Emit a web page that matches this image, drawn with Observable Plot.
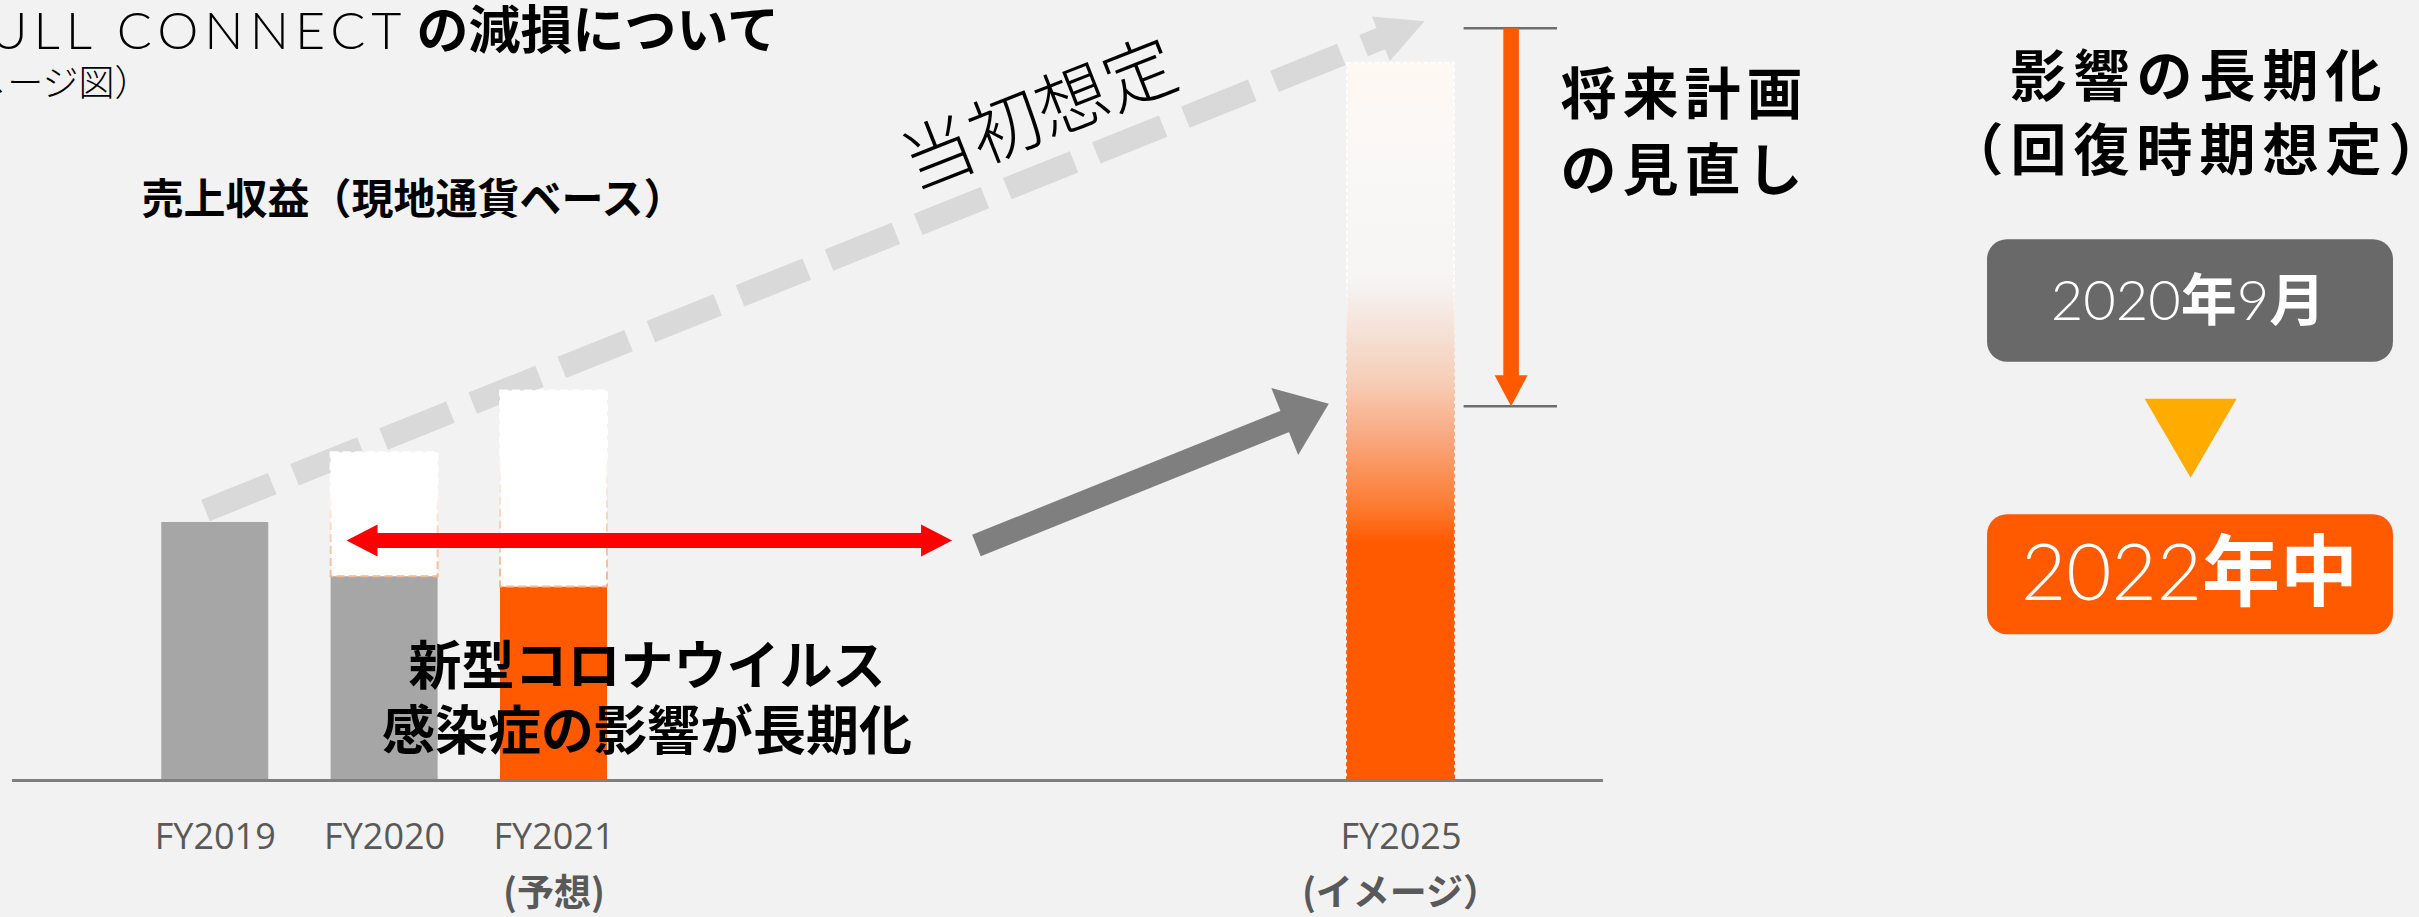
<!DOCTYPE html>
<html><head><meta charset="utf-8">
<script src="https://cdn.jsdelivr.net/npm/d3@7"></script>
<script src="https://cdn.jsdelivr.net/npm/@observablehq/plot@0.6"></script>
<style>
html,body{margin:0;padding:0;background:#f2f2f2;overflow:hidden;}
#chart svg{display:block;}
</style></head><body><div id="chart"></div>
<script>
// ---------------- data ----------------
const fiscalYears = [2019, 2020, 2021, 2025];
const tickLabels  = ["FY2019", "FY2020", "FY2021", "FY2025"];
const tickNotes   = ["", "", "(予想)", "(イメージ）"];
const barKind     = ["actual", "actual", "forecast", "image"];
const revenue     = [100, 79, 75, 278];        // 売上収益 (index, FY2019 = 100)
const initialPlan = [null, 127, 151, null];    // 当初想定 for FY2020 / FY2021
const plan2025    = [291.5, 145];              // 将来計画: original -> revised
const kindNames   = ["actual", "forecast"];
const kindColors  = ["#a6a6a6", "#ff5a00"];
const recovery    = ["2020年9月", "2022年中"]; // 回復時期想定: before -> after

// ---------------- scales ----------------
const W = 2419, H = 917;
const xDomain = [2019, 2021, 2025], xRange = [214.75, 553.5, 1400.5];
const yDomain = [-53.1, 302.3];
const xS = d3.scaleLinear(xDomain, xRange);
const yS = d3.scaleLinear(yDomain, [H, 0]);
const BAR_PX = 107;
const barEdges = fy => [xS.invert(xS(fy) - BAR_PX / 2), xS.invert(xS(fy) + BAR_PX / 2)];

const bars = fiscalYears.map((fy, i) => {
  const [x1, x2] = barEdges(fy);
  return {fy, x1, x2, kind: barKind[i], value: revenue[i], plan: initialPlan[i], note: tickNotes[i]};
});

// ---------------- arrows ----------------
function headSym(ux, uy, len, w) {
  const nx = -uy, ny = ux;
  return {draw(ctx) {
    ctx.moveTo(0, 0);
    ctx.lineTo(-len * ux + w / 2 * nx, -len * uy + w / 2 * ny);
    ctx.lineTo(-len * ux - w / 2 * nx, -len * uy - w / 2 * ny);
    ctx.closePath();
  }};
}
function arrow({tail, tip, shaft, head, headWidth, fill, dash, both = false, noShaft = false}) {
  const p0 = [xS(tail[0]), yS(tail[1])], p1 = [xS(tip[0]), yS(tip[1])];
  const dx = p1[0] - p0[0], dy = p1[1] - p0[1], L = Math.hypot(dx, dy), ux = dx / L, uy = dy / L;
  const at = (p, d) => [xS.invert(p[0] + ux * d), yS.invert(p[1] + uy * d)];
  const end = at(p1, -(head - 1));
  const start = both ? at(p0, head - 1) : tail;
  const marks = [];
  if (!noShaft) marks.push(Plot.link([{a: start, b: end}], {
    x1: d => d.a[0], y1: d => d.a[1], x2: d => d.b[0], y2: d => d.b[1],
    stroke: fill, strokeWidth: shaft, strokeLinecap: "butt", strokeDasharray: dash
  }));
  marks.push(Plot.dot([tip], {x: d => d[0], y: d => d[1], symbol: headSym(ux, uy, head, headWidth), fill, stroke: "none"}));
  if (both) marks.push(Plot.dot([tail], {x: d => d[0], y: d => d[1], symbol: headSym(-ux, -uy, head, headWidth), fill, stroke: "none"}));
  return marks;
}

const CJK = "'Noto Sans CJK JP', sans-serif";
const LAT = "Lato, 'Open Sans', sans-serif";
function label(text, x, y, o = {}) {
  return Plot.text([text], {x, y, text: d => d, fill: o.fill ?? "#000", fontSize: o.size ?? 40,
    fontWeight: o.weight ?? "bold", fontFamily: o.family ?? CJK, textAnchor: o.anchor ?? "middle",
    lineHeight: o.lineHeight ?? 1.2, rotate: o.rotate ?? 0, ariaDescription: o.aria});
}

// ---------------- plot ----------------
const svg = Plot.plot({
  width: W, height: H, margin: 0,
  x: {type: "linear", domain: xDomain, range: xRange},
  y: {type: "linear", domain: yDomain, axis: null},
  color: {type: "ordinal", domain: kindNames, range: kindColors},
  style: {background: "#f2f2f2", fontFamily: "'Open Sans', 'Noto Sans CJK JP', sans-serif", fontSize: "36px"},
  marks: [
    // 当初想定 (dashed trend)
    ...arrow({tail: [2018.942, 104.65], tip: [2025.111, 294.3], shaft: 23, head: 47, headWidth: 48, fill: "#d9d9d9", dash: "72,24"}),
    label("当初想定", 2023.286, 259.1, {size: 72, weight: 300, rotate: -21.5}),
    // bars
    Plot.rect(bars.filter(d => d.kind !== "image"), {x1: "x1", x2: "x2", y1: 0, y2: "value", fill: "kind"}),
    Plot.rect(bars.filter(d => d.plan != null), {x1: "x1", x2: "x2", y1: "value", y2: "plan", fill: "#ffffff",
      stroke: "url(#planStroke)", strokeWidth: 2, strokeDasharray: "8,4"}),
    Plot.rect(bars.filter(d => d.kind === "image"), {x1: "x1", x2: "x2", y1: 0, y2: "value",
      fill: "url(#imageFill)", stroke: "url(#imageStroke)", strokeWidth: 2, strokeDasharray: "4,3"}),
    Plot.ruleY([0], {x1: 2017.803, x2: 2025.956, stroke: "#7f7f7f", strokeWidth: 3}),
    Plot.axisX({ticks: fiscalYears, tickFormat: d => tickLabels[fiscalYears.indexOf(d)], tickSize: 0, tickPadding: -93.6,
      fontSize: 36, color: "#595959", label: null}),
    Plot.text(bars.filter(d => d.note), {x: "fy", y: -44.2, text: "note", fontSize: 37, fontWeight: "bold", fill: "#595959", fontFamily: CJK}),
    // impact prolonged
    ...arrow({tail: [2019.775, 93.02], tip: [2022.880, 93.02], shaft: 15, head: 31, headWidth: 32, fill: "#ff0000", both: true}),
    ...arrow({tail: [2022.995, 91.09], tip: [2024.659, 146.0], shaft: 23, head: 47.5, headWidth: 72, fill: "#7f7f7f"}),
    label("新型コロナウイルス\n感染症の影響が長期化", 2021.439, 32.6, {size: 53, lineHeight: 1.24}),
    // plan revision
    Plot.ruleY(plan2025, {x1: 2025.298, x2: 2025.739, stroke: "#6e6e6e", strokeWidth: 2.5}),
    ...arrow({tail: [2025.52, plan2025[0]], tip: [2025.52, plan2025[1]], shaft: 15.6, head: 31, headWidth: 33, fill: "#ff5a00"}),
    label("将来計画\nの見直し", 2025.753, 253, {size: 56, anchor: "start", lineHeight: 1.357, aria: "spaced6"}),
    // titles
    label("FULL CONNECT", 2020.135, 291.2, {size: 52, weight: 300, family: LAT, anchor: "end", aria: "spaced6t"}),
    label("の減損について", 2020.188, 291.2, {size: 52, anchor: "start"}),
    label("（イメージ図）", 2018.618, 270.5, {size: 36, weight: 300, anchor: "end"}),
    label("売上収益（現地通貨ベース）", 2018.565, 225.8, {size: 42, anchor: "start"}),
    // right panel
    label("影響の長期化\n（回復時期想定）", 2028.771, 260, {size: 56, lineHeight: 1.32, aria: "spaced7"}),
    Plot.rect([{t: recovery[0], y1: 162.1, y2: 209.6, c: "#696969"}, {t: recovery[1], y1: 56.5, y2: 103.0, c: "#ff5a00"}],
      {x1: 2027.770, x2: 2029.687, y1: "y1", y2: "y2", fill: d => d.c, rx: 20}),
    ...arrow({tail: [2028.729, 160], tip: [2028.729, 117.3], head: 79, headWidth: 92, fill: "#ffab00", noShaft: true}),
    Plot.text([{t: recovery[0], x: 2028.717, y: 185.5, s: 56}, {t: recovery[1], x: 2028.724, y: 79.7, s: 78}],
      {x: "x", y: "y", text: "t", fontSize: d => d.s, fill: "#ffffff", ariaDescription: "boxlabel"})
  ]
});

// gradients
const defs = d3.select(svg).insert("defs", ":first-child");
function vgrad(id, stops) {
  const g = defs.append("linearGradient").attr("id", id).attr("x1", 0).attr("y1", 1).attr("x2", 0).attr("y2", 0);
  for (const [o, c] of stops) g.append("stop").attr("offset", o).attr("stop-color", c);
}
vgrad("planStroke", [[0, "#fbb58f"], [0.35, "#fcd3bd"], [0.7, "#ffffff"], [1, "#ffffff"]]);
vgrad("imageFill", [[0, "#ff5a00"], [0.33, "#ff5a00"], [0.38, "#fd7a30"], [0.47, "#f9a57a"], [0.56, "#f6cfb9"],
  [0.65, "#f5e8e1"], [0.70, "#f6f5f4"], [0.85, "#f9f8f7"], [1, "#fff8f3"]]);
vgrad("imageStroke", [[0, "#ff5a00"], [0.33, "#ff6a1a"], [0.55, "#f9c7ab"], [0.7, "#ffffff"], [1, "#ffffff"]]);

// typographic touches
const root = d3.select(svg);
const spacing = {spaced6: "6px", spaced7: "7px", spaced6t: "6px"};
for (const [k, v] of Object.entries(spacing)) root.selectAll(`g[aria-description="${k}"] text`).style("letter-spacing", v);
root.selectAll("text").filter(function () { return recovery.includes(this.textContent); }).each(function () {
  const t = this.textContent; this.textContent = "";
  for (const m of t.match(/[0-9]+|[^0-9]+/g)) {
    const ts = d3.select(this).append("tspan").text(m);
    if (/[0-9]/.test(m)) ts.attr("font-family", LAT).attr("font-weight", 300);
    else ts.attr("font-family", CJK).attr("font-weight", 700);
  }
});
document.getElementById("chart").append(svg);
</script></body></html>
